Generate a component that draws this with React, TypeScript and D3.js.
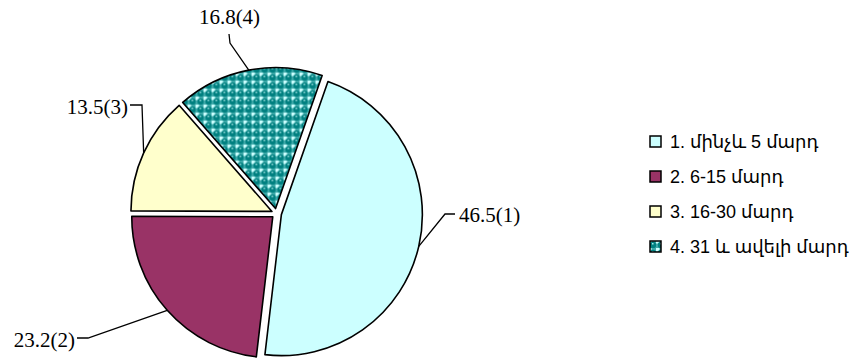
import React from "react";
import * as d3 from "d3";

const categories = ["1. մինչև 5 մարդ", "2. 6-15 մարդ", "3. 16-30 մարդ", "4. 31 և ավելի մարդ"];
const values = [46.5, 23.2, 13.5, 16.8];
const colors = ["#CCFFFF", "#993366", "#FFFFCC", "url(#spheres)"];

// layout for data labels: elbow point, text anchor point
const labelLayout = [
  { ex: 445, ey: 214, tx: 455, ty: 214, textX: 459, baseY: 222, anchor: "start" },
  { ex: 88, ey: 338, tx: 77, ty: 338, textX: 75, baseY: 347, anchor: "end" },
  { ex: 142, ey: 105, tx: 130, ty: 105, textX: 128, baseY: 114, anchor: "end" },
  { ex: 230, ey: 43, tx: 229, ty: 34, textX: 229.5, baseY: 24, anchor: "middle" },
];

const W = 860;
const H = 360;
const cx = 276.5;
const cy = 213.5;
const R = 141;
const explode = 5;
const startDeg = 19.3;

export default function App() {
  const start = (startDeg * Math.PI) / 180;
  const pie = d3
    .pie<number>()
    .sort(null)
    .value((d) => d)
    .startAngle(start)
    .endAngle(start + 2 * Math.PI);
  const arcs = pie(values);
  const arc = d3.arc<d3.PieArcDatum<number>>().innerRadius(0).outerRadius(R);

  return (
    <svg width={W} height={H} style={{ position: "absolute", left: 0, top: 0, background: "#fff" }}>
      <defs>
        <pattern id="spheres" patternUnits="userSpaceOnUse" width={8} height={8}>
          <rect width={8} height={8} fill="#3FA9A9" />
          <rect x={0} y={0} width={3.5} height={3.5} fill="#CCFFFF" />
          <circle cx={5} cy={5} r={3.2} fill="#008080" />
          <rect x={4} y={3} width={1.5} height={1.5} fill="#A6E6E6" />
        </pattern>
      </defs>
      <rect width={W} height={H} fill="#fff" />
      {arcs.map((a, i) => {
        const mid = (a.startAngle + a.endAngle) / 2;
        const dx = Math.sin(mid) * explode;
        const dy = -Math.cos(mid) * explode;
        return (
          <path
            key={i}
            d={arc(a) || ""}
            transform={`translate(${cx + dx},${cy + dy})`}
            fill={colors[i]}
            stroke="#000"
            strokeWidth={1.6}
            strokeLinejoin="round"
          />
        );
      })}
      {arcs.map((a, i) => {
        const mid = (a.startAngle + a.endAngle) / 2;
        const ox = cx + Math.sin(mid) * (explode + R);
        const oy = cy - Math.cos(mid) * (explode + R);
        const L = labelLayout[i];
        return (
          <g key={"l" + i}>
            <polyline
              points={`${ox},${oy} ${L.ex},${L.ey} ${L.tx},${L.ty}`}
              fill="none"
              stroke="#000"
              strokeWidth={1.3}
            />
            <text
              x={L.textX}
              y={L.baseY}
              textAnchor={L.anchor as any}
              fontFamily="'Liberation Serif', 'Times New Roman', serif"
              fontSize={21}
              fill="#000"
            >
              {`${values[i].toFixed(1)}(${i + 1})`}
            </text>
          </g>
        );
      })}
      {categories.map((c, i) => {
        const yc = 141.5 + i * 35;
        return (
          <g key={"lg" + i}>
            <rect
              x={650}
              y={yc - 5.5}
              width={11}
              height={11}
              fill={colors[i]}
              stroke="#000"
              strokeWidth={1.5}
            />
            <text
              x={670}
              y={yc + 6.5}
              fontFamily="'Liberation Sans', Arial, 'DejaVu Sans', sans-serif"
              fontSize={18}
              fill="#000"
            >
              {c}
            </text>
          </g>
        );
      })}
    </svg>
  );
}
